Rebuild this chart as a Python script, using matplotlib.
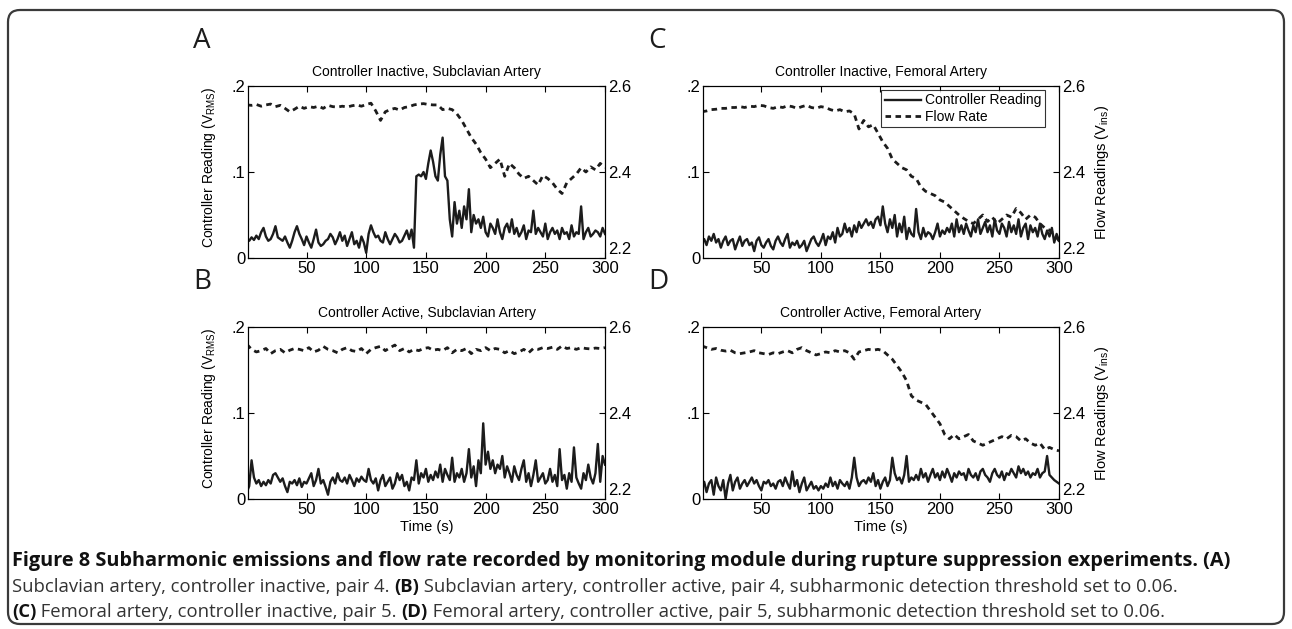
import numpy as np
import matplotlib
matplotlib.use('Agg')
import matplotlib.pyplot as plt
from matplotlib.patches import FancyBboxPatch
from matplotlib import font_manager

# time bases (s)
t_ctrl = np.arange(0, 302, 2)
t_flow = np.arange(0, 304, 4)

# controller reading, in mV_RMS
ctrl_a = np.array([
    22, 20, 24, 21, 26, 22, 30, 35, 25, 20,
    22, 28, 37, 24, 22, 20, 25, 18, 12, 20,
    30, 37, 28, 22, 15, 25, 18, 12, 22, 33,
    18, 14, 16, 20, 22, 28, 24, 16, 22, 30,
    20, 26, 14, 22, 30, 16, 20, 12, 25, 18,
    6, 28, 38, 30, 24, 26, 20, 18, 30, 22,
    16, 22, 28, 24, 18, 20, 26, 32, 22, 33,
    12, 95, 97, 95, 100, 92, 110, 125, 112, 95,
    90, 120, 140, 95, 90, 45, 25, 65, 40, 55,
    35, 60, 45, 80, 30, 50, 40, 45, 35, 48,
    30, 25, 40, 35, 28, 45, 30, 22, 35, 40,
    30, 45, 28, 35, 25, 30, 38, 22, 32, 30,
    55, 28, 35, 30, 25, 40, 22, 30, 35, 28,
    32, 22, 35, 28, 30, 22, 38, 25, 30, 28,
    60, 22, 30, 35, 25, 28, 32, 30, 25, 35,
    28]) / 1000.0

ctrl_b = np.array([
    8, 15, 45, 25, 18, 22, 15, 20, 16, 22,
    18, 28, 30, 25, 20, 24, 15, 8, 20, 18,
    22, 16, 24, 14, 20, 18, 24, 30, 15, 22,
    35, 18, 22, 14, 5, 20, 25, 18, 30, 22,
    20, 25, 18, 28, 22, 15, 24, 20, 26, 22,
    20, 35, 22, 18, 24, 10, 22, 28, 15, 20,
    25, 12, 18, 30, 22, 28, 15, 20, 10, 25,
    22, 45, 18, 30, 25, 35, 20, 28, 22, 32,
    25, 40, 20, 35, 28, 22, 48, 20, 30, 25,
    35, 20, 30, 58, 25, 38, 15, 45, 30, 88,
    40, 55, 35, 45, 30, 40, 35, 50, 25, 38,
    30, 20, 38, 28, 22, 35, 45, 20, 30, 15,
    28, 45, 20, 25, 30, 18, 22, 35, 20, 28,
    15, 58, 22, 28, 12, 30, 20, 60, 25, 18,
    12, 30, 22, 40, 25, 18, 30, 64, 20, 50,
    40]) / 1000.0

ctrl_c = np.array([
    18, 22, 15, 25, 20, 28, 18, 22, 12, 20,
    25, 15, 20, 22, 10, 18, 25, 14, 20, 22,
    15, 18, 8, 20, 24, 15, 12, 18, 22, 14,
    10, 20, 25, 18, 14, 22, 28, 12, 18, 15,
    20, 12, 15, 20, 8, 15, 22, 25, 18, 14,
    20, 28, 15, 25, 22, 30, 18, 35, 25, 28,
    40, 30, 35, 25, 38, 30, 42, 35, 40, 45,
    38, 42, 35, 45, 48, 38, 60, 40, 30, 45,
    35, 50, 25, 40, 30, 48, 22, 35, 28, 25,
    57, 30, 22, 35, 25, 30, 28, 22, 30, 40,
    25, 32, 28, 35, 30, 40, 25, 45, 30, 38,
    28, 40, 32, 25, 38, 30, 45, 28, 35, 42,
    30, 38, 25, 45, 32, 28, 40, 35, 25, 42,
    30, 38, 28, 45, 25, 35, 40, 22, 38, 30,
    35, 25, 40, 28, 22, 32, 25, 35, 18, 28,
    20]) / 1000.0

ctrl_d = np.array([
    12, 20, 8, 18, 22, 5, 25, 15, 10, 22,
    0, 18, 28, 10, 20, 25, 12, 18, 22, 15,
    20, 25, 18, 22, 15, 10, 20, 18, 22, 15,
    18, 12, 20, 22, 15, 25, 18, 12, 32, 15,
    22, 8, 18, 25, 10, 15, 20, 12, 15, 10,
    15, 12, 18, 14, 25, 15, 20, 12, 22, 18,
    15, 20, 12, 25, 48, 25, 15, 20, 22, 18,
    25, 20, 30, 15, 22, 12, 20, 25, 15, 22,
    48, 30, 22, 25, 18, 28, 50, 20, 25, 22,
    28, 22, 35, 25, 30, 20, 28, 35, 25, 30,
    22, 32, 25, 35, 28, 20, 30, 25, 32, 28,
    30, 22, 35, 28, 25, 30, 22, 32, 35, 28,
    25, 20, 30, 35, 28, 25, 32, 22, 30, 28,
    35, 30, 25, 38, 30, 35, 28, 32, 25, 30,
    28, 35, 25, 30, 32, 50, 28, 25, 22, 20,
    18]) / 1000.0

# flow readings (V_ins)
flow_a = [
    2.556, 2.555, 2.557, 2.553, 2.556, 2.558, 2.552, 2.555, 2.548, 2.540,
    2.546, 2.553, 2.548, 2.552, 2.550, 2.553, 2.548, 2.555, 2.552, 2.551,
    2.553, 2.551, 2.554, 2.556, 2.553, 2.557, 2.560, 2.542, 2.520, 2.540,
    2.545, 2.548, 2.544, 2.550, 2.552, 2.556, 2.558, 2.559, 2.557, 2.556,
    2.556, 2.545, 2.548, 2.545, 2.535, 2.520, 2.500, 2.480, 2.465, 2.445,
    2.430, 2.410, 2.420, 2.430, 2.390, 2.420, 2.410, 2.395, 2.385, 2.390,
    2.380, 2.370, 2.392, 2.385, 2.375, 2.360, 2.350, 2.375, 2.385, 2.395,
    2.410, 2.400, 2.412, 2.405, 2.420, 2.410]

flow_b = [
    2.560, 2.548, 2.542, 2.545, 2.550, 2.538, 2.545, 2.548, 2.540, 2.546,
    2.550, 2.548, 2.545, 2.552, 2.542, 2.546, 2.555, 2.548, 2.545, 2.540,
    2.548, 2.552, 2.545, 2.543, 2.550, 2.538, 2.548, 2.552, 2.555, 2.545,
    2.552, 2.558, 2.545, 2.550, 2.542, 2.548, 2.545, 2.550, 2.552, 2.546,
    2.548, 2.545, 2.552, 2.540, 2.548, 2.545, 2.550, 2.538, 2.548, 2.545,
    2.552, 2.545, 2.550, 2.548, 2.540, 2.545, 2.538, 2.542, 2.548, 2.540,
    2.550, 2.548, 2.552, 2.550, 2.553, 2.548, 2.556, 2.550, 2.552, 2.548,
    2.552, 2.550, 2.549, 2.551, 2.550, 2.552]

flow_c = [
    2.540, 2.542, 2.545, 2.546, 2.548, 2.548, 2.550, 2.550, 2.552, 2.550,
    2.553, 2.552, 2.555, 2.554, 2.550, 2.548, 2.552, 2.550, 2.554, 2.552,
    2.548, 2.552, 2.555, 2.550, 2.548, 2.552, 2.550, 2.545, 2.542, 2.545,
    2.540, 2.542, 2.535, 2.500, 2.520, 2.505, 2.510, 2.490, 2.470, 2.455,
    2.430, 2.420, 2.410, 2.405, 2.390, 2.385, 2.365, 2.355, 2.350, 2.345,
    2.335, 2.330, 2.320, 2.310, 2.300, 2.292, 2.285, 2.280, 2.290, 2.300,
    2.285, 2.295, 2.280, 2.290, 2.300, 2.295, 2.315, 2.305, 2.290, 2.300,
    2.295, 2.280, 2.270, 2.265, 2.255, 2.240]

flow_d = [
    2.556, 2.552, 2.548, 2.550, 2.546, 2.544, 2.546, 2.540, 2.538, 2.540,
    2.542, 2.545, 2.540, 2.538, 2.536, 2.540, 2.538, 2.542, 2.545, 2.540,
    2.548, 2.552, 2.545, 2.540, 2.535, 2.538, 2.542, 2.540, 2.545, 2.542,
    2.545, 2.540, 2.525, 2.542, 2.545, 2.548, 2.546, 2.548, 2.545, 2.535,
    2.525, 2.510, 2.495, 2.475, 2.440, 2.430, 2.425, 2.420, 2.405, 2.390,
    2.375, 2.350, 2.340, 2.350, 2.340, 2.345, 2.350, 2.335, 2.330, 2.325,
    2.330, 2.335, 2.340, 2.345, 2.340, 2.348, 2.345, 2.335, 2.340, 2.330,
    2.325, 2.330, 2.315, 2.320, 2.315, 2.312]

titles = ['Controller Inactive, Subclavian Artery', 'Controller Active, Subclavian Artery',
          'Controller Inactive, Femoral Artery', 'Controller Active, Femoral Artery']
letters = ['A', 'B', 'C', 'D']
xticks = [50, 100, 150, 200, 250, 300]

W, H = 1292, 629
fig = plt.figure(figsize=(W / 100, H / 100), dpi=100)
ink = '#1c1c1c'
plt.rcParams['font.family'] = ['Liberation Sans', 'DejaVu Sans']


def px_rect(x0, y0, x1, y1):
    return [x0 / W, 1 - y1 / H, (x1 - x0) / W, (y1 - y0) / H]


def panel(rect, ctrl, flow, title, letter, left_lab, right_lab, xlab, legend):
    ax = fig.add_axes(rect)
    ax2 = ax.twinx()
    l1, = ax.plot(t_ctrl, ctrl, color=ink, lw=1.7)
    l2, = ax2.plot(t_flow, flow, color=ink, lw=2.0, ls=(0, (2.0, 1.6)))
    ax.set_xlim(1, 300)
    ax.set_ylim(0, 0.2)
    ax2.set_ylim(2.2, 2.6)
    ax.set_xticks(xticks)
    ax.set_yticks([0, 0.1, 0.2])
    ax.set_yticklabels(['0', '.1', '.2'])
    ax2.set_yticks([2.2, 2.4, 2.6])
    # the bottom right label is drawn by hand a little higher, as in the original
    ax2.set_yticklabels(['', '2.4', '2.6'])
    ax2.annotate('2.2', xy=(1, 0), xycoords='axes fraction', xytext=(2, 6),
                 textcoords='offset points', fontsize=12, va='center', ha='left')
    ax.tick_params(direction='in', top=True, length=4, labelsize=12, pad=2, width=0.8)
    ax2.tick_params(direction='in', length=4, labelsize=12, pad=2, width=0.8)
    for a in (ax, ax2):
        for s in a.spines.values():
            s.set_linewidth(0.8)
    ax.set_title(title, fontsize=10, pad=7)
    if left_lab:
        ax.set_ylabel('Controller Reading (V$_{\\mathregular{RMS}}$)', fontsize=10)
        ax.yaxis.set_label_coords(-0.085, 0.53)
    if right_lab:
        ax2.set_ylabel('Flow Readings (V$_{\\mathregular{ins}}$)', fontsize=10.5, rotation=90)
        ax2.yaxis.set_label_coords(1.095, 0.5)
    if xlab:
        ax.set_xlabel('Time (s)', fontsize=10.5, labelpad=2)
    if legend:
        lg = ax2.legend([l1, l2], ['Controller Reading', 'Flow Rate'], loc='upper right',
                        bbox_to_anchor=(1 - 14 / 356, 1 - 4 / 172),
                        fontsize=10, frameon=True, fancybox=False, edgecolor='black',
                        borderaxespad=0, handlelength=2.6, borderpad=0.25,
                        labelspacing=0.15, handletextpad=0.3)
        lg.get_frame().set_linewidth(0.8)
    fig.text(rect[0] - 55 / W, rect[1] + rect[3] + 45 / H, letter, fontsize=20,
             family=['Open Sans', 'DejaVu Sans'], va='center', ha='left', color=ink)
    return ax


panel(px_rect(248, 86, 605, 258), ctrl_a, flow_a, titles[0], letters[0], True, False, False, False)
panel(px_rect(248, 327, 605, 499), ctrl_b, flow_b, titles[1], letters[1], True, False, True, False)
panel(px_rect(703, 86, 1059, 258), ctrl_c, flow_c, titles[2], letters[2], False, True, False, True)
panel(px_rect(703, 327, 1059, 499), ctrl_d, flow_d, titles[3], letters[3], False, True, True, False)

# rounded frame around the whole figure
frame = FancyBboxPatch((0.08, 0.05), 12.76, 6.14, boxstyle='round,pad=0,rounding_size=0.12',
                       transform=fig.dpi_scale_trans, fill=False, ec='#3a3a3a', lw=1.6)
fig.add_artist(frame)

# caption
names = {f.name for f in font_manager.fontManager.ttflist}
capfont = 'Liberation Sans Narrow' if 'Liberation Sans Narrow' in names else 'Open Sans'
renderer = fig.canvas.get_renderer()

cap_lines = [
    (561, [('Figure 8 Subharmonic emissions and flow rate recorded by monitoring module during rupture suppression experiments. (A)', True)]),
    (587, [('Subclavian artery, controller inactive, pair 4. ', False), ('(B)', True),
           (' Subclavian artery, controller active, pair 4, subharmonic detection threshold set to 0.06.', False)]),
    (612, [('(C)', True), (' Femoral artery, controller inactive, pair 5. ', False), ('(D)', True),
           (' Femoral artery, controller active, pair 5, subharmonic detection threshold set to 0.06.', False)]),
]


def fit_size(txt, target, bold=False):
    probe = fig.text(0, 0, txt, fontsize=10, family=capfont,
                     fontweight='bold' if bold else 'normal')
    w = probe.get_window_extent(renderer=renderer).width
    probe.remove()
    return 10 * target / w


cap_size = fit_size(''.join(p[0] for p in cap_lines[1][1]), 1160)
head_size = fit_size(cap_lines[0][1][0][0], 1226, bold=True)

for i, (y, parts) in enumerate(cap_lines):
    x = 12
    for txt, bold in parts:
        t = fig.text(x / W, 1 - y / H, txt, fontsize=head_size if i == 0 else cap_size,
                     family=capfont, fontweight='bold' if bold else 'normal',
                     va='center', ha='left', color='#111111' if bold else '#333333')
        x += t.get_window_extent(renderer=renderer).width

fig.savefig('out.png', dpi=100)
